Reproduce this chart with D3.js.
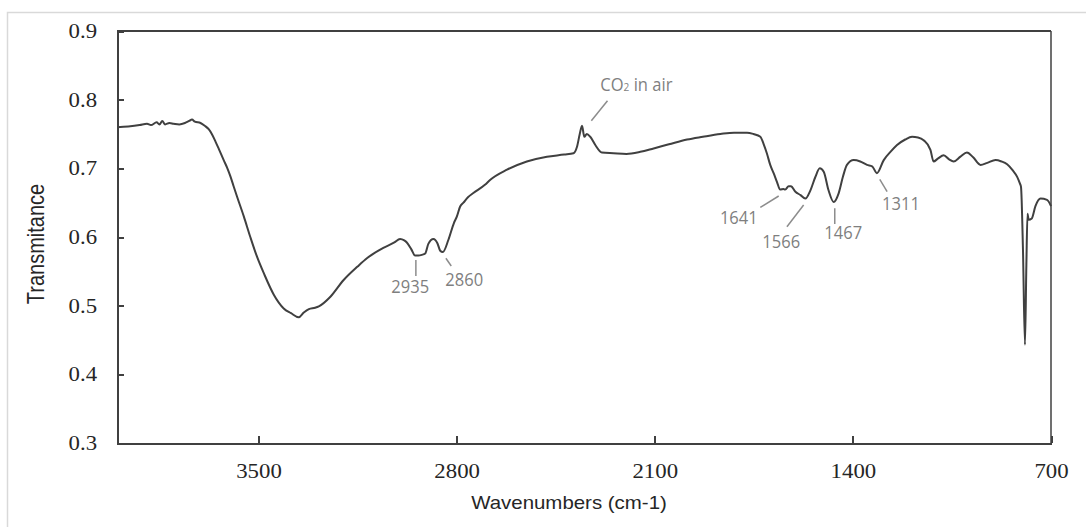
<html>
<head>
<title>FTIR spectrum</title>
<script src="https://d3js.org/d3.v7.min.js"></script>
<style type="text/css">
    body { margin: 0; background: #fff; }
    .axis path, .axis line {
        fill: none;
        stroke: #404040;
        stroke-width: 2px;
        shape-rendering: crispEdges;
    }
    .axis text {
        font-family: "Liberation Serif", serif;
        font-size: 20px;
        fill: #262626;
    }
    .anno text {
        font-family: "Open Sans", sans-serif;
        font-size: 18px;
        fill: #7f7f7f;
    }
    .anno line {
        stroke: #8c8c8c;
        stroke-width: 1.5px;
    }
</style>
</head>
<body>
<script type="text/javascript">
// spectrum (wavenumber cm-1, transmittance)
var wavenumber = [4000, 3960, 3920, 3894, 3880, 3860, 3850, 3840, 3830, 3815, 3800, 3780, 3760, 3745, 3735, 3725,
    3705, 3690, 3676, 3665, 3652, 3640, 3623, 3610, 3599, 3588, 3576, 3552, 3529, 3505, 3481, 3446, 3411, 3385,
    3358, 3340, 3322, 3300, 3287, 3246, 3200, 3150, 3117, 3059, 3020, 3000, 2985, 2976, 2960, 2947, 2935, 2923,
    2911, 2900, 2882, 2868, 2858, 2849, 2829, 2810, 2799, 2788, 2776, 2760, 2741, 2700, 2682, 2622, 2552, 2481,
    2420, 2387, 2375, 2365, 2357, 2349, 2340, 2328, 2310, 2287, 2246, 2200, 2151, 2104, 2050, 1986, 1930, 1868,
    1820, 1798, 1774, 1751, 1727, 1715, 1704, 1692, 1680, 1668, 1657, 1645, 1639, 1627, 1619, 1603, 1585, 1568,
    1550, 1533, 1517, 1503, 1486, 1468, 1450, 1435, 1421, 1397, 1374, 1350, 1332, 1315, 1291, 1265, 1244, 1215,
    1191, 1170, 1150, 1126, 1115, 1100, 1079, 1060, 1044, 1020, 997, 975, 949, 925, 896, 875, 855, 835, 820, 810,
    806, 799, 792, 787, 783, 779, 768, 755, 737, 714, 700];
var transmittance = [0.760, 0.761, 0.763, 0.765, 0.763, 0.767, 0.764, 0.769, 0.764, 0.766, 0.765, 0.764, 0.766,
    0.769, 0.771, 0.768, 0.766, 0.762, 0.757, 0.750, 0.739, 0.728, 0.712, 0.700, 0.688, 0.674, 0.659, 0.630, 0.600,
    0.571, 0.547, 0.516, 0.496, 0.489, 0.483, 0.490, 0.495, 0.497, 0.499, 0.513, 0.537, 0.557, 0.569, 0.584, 0.592,
    0.597, 0.595, 0.592, 0.582, 0.573, 0.573, 0.574, 0.576, 0.590, 0.597, 0.591, 0.580, 0.578, 0.596, 0.620, 0.630,
    0.644, 0.650, 0.658, 0.664, 0.676, 0.683, 0.698, 0.710, 0.717, 0.720, 0.722, 0.731, 0.750, 0.762, 0.746, 0.750,
    0.746, 0.734, 0.723, 0.722, 0.721, 0.724, 0.729, 0.735, 0.742, 0.746, 0.750, 0.752, 0.752, 0.752, 0.750, 0.746,
    0.735, 0.722, 0.705, 0.693, 0.680, 0.669, 0.670, 0.669, 0.674, 0.674, 0.666, 0.661, 0.656, 0.668, 0.687, 0.700,
    0.695, 0.668, 0.651, 0.664, 0.688, 0.705, 0.712, 0.710, 0.705, 0.703, 0.693, 0.712, 0.725, 0.734, 0.742, 0.746,
    0.745, 0.741, 0.727, 0.710, 0.714, 0.719, 0.713, 0.710, 0.717, 0.723, 0.716, 0.705, 0.708, 0.712, 0.710, 0.706,
    0.697, 0.688, 0.678, 0.673, 0.581, 0.443, 0.560, 0.634, 0.625, 0.627, 0.645, 0.656, 0.654, 0.645];

var xTicks = [3500, 2800, 2100, 1400, 700];
var yTicks = [0.3, 0.4, 0.5, 0.6, 0.7, 0.8, 0.9];

// peak labels: text, leader line ends and text anchor in data units
var annoText = ["CO2 in air", "2935", "2860", "1641", "1566", "1467", "1311"];
var annoFrom = [[2267, 0.7985], [2944, 0.5665], [2838, 0.569], [1727, 0.6432], [1633, 0.615], [1464, 0.6418], [1305, 0.684]];
var annoTo   = [[2324, 0.7694], [2944, 0.5432], [2819, 0.5578], [1662, 0.6597], [1574, 0.6466], [1464, 0.6189], [1279, 0.666]];
var annoAt   = [[2165, 0.8126], [2964, 0.5184], [2773, 0.5286], [1803, 0.6189], [1653, 0.5835], [1434, 0.5966], [1230, 0.6393]];

var w = 1086, h = 527;
var padL = 117, padR = 1051, padT = 31, padB = 443;

var svg = d3.select('body').append('svg')
    .attr('width', w)
    .attr('height', h);

// light frame round the figure
svg.append('rect')
    .attr('x', 7.5).attr('y', 12.5)
    .attr('width', 1100).attr('height', 540)
    .attr('fill', 'none')
    .attr('stroke', '#d9d9d9')
    .attr('stroke-width', 1.5);

var xscale = d3.scaleLinear().domain([4000, 700]).range([padL, padR]);
var yscale = d3.scaleLinear().domain([0.3, 0.9]).range([padB, padT]);

// top and right borders
svg.append('line')
    .attr('x1', padL).attr('x2', padR)
    .attr('y1', yscale(0.9)).attr('y2', yscale(0.9))
    .attr('stroke', '#404040').attr('stroke-width', 2);
svg.append('line')
    .attr('x1', xscale(700)).attr('x2', xscale(700))
    .attr('y1', padT).attr('y2', padB)
    .attr('stroke', '#404040').attr('stroke-width', 1.5);

var xAxis = d3.axisBottom(xscale)
    .tickValues(xTicks)
    .tickSize(-7)
    .tickSizeOuter(0)
    .tickPadding(21)
    .tickFormat(d3.format('d'));
svg.append('g')
    .attr('class', 'axis')
    .attr('transform', 'translate(0,' + padB + ')')
    .call(xAxis)
    .selectAll('text')
    .attr('transform', 'scale(1.14,1)');

var yAxis = d3.axisLeft(yscale)
    .tickValues(yTicks)
    .tickSize(-7)
    .tickSizeOuter(0)
    .tickPadding(17.5)
    .tickFormat(function (d) { return d.toFixed(1); });
svg.append('g')
    .attr('class', 'axis')
    .attr('transform', 'translate(' + padL + ',0)')
    .call(yAxis)
    .selectAll('text')
    .attr('transform', 'scale(1.14,1)');

// axis titles
svg.append('text')
    .attr('transform', 'translate(569,509) scale(1.135,1)')
    .attr('text-anchor', 'middle')
    .style('font-family', '"Liberation Sans", Arial, sans-serif')
    .style('font-size', '18px')
    .style('fill', '#262626')
    .text('Wavenumbers (cm-1)');

svg.append('text')
    .attr('transform', 'translate(44,244) scale(1.2,1) rotate(-90)')
    .attr('text-anchor', 'middle')
    .style('font-family', '"Liberation Sans", Arial, sans-serif')
    .style('font-size', '20px')
    .style('fill', '#262626')
    .text('Transmitance');

// spectrum
var spectrum = wavenumber.map(function (d, i) { return [d, transmittance[i]]; });
var line = d3.line()
    .x(function (d) { return xscale(d[0]); })
    .y(function (d) { return yscale(d[1]); })
    .curve(d3.curveMonotoneX);
svg.append('path')
    .datum(spectrum)
    .attr('fill', 'none')
    .attr('stroke', '#404040')
    .attr('stroke-width', 2)
    .attr('stroke-linejoin', 'round')
    .attr('d', line);

// peak labels
var anno = svg.append('g').attr('class', 'anno');
anno.selectAll('line')
    .data(annoText)
    .enter()
    .append('line')
    .attr('x1', function (d, i) { return xscale(annoFrom[i][0]); })
    .attr('y1', function (d, i) { return yscale(annoFrom[i][1]); })
    .attr('x2', function (d, i) { return xscale(annoTo[i][0]); })
    .attr('y2', function (d, i) { return yscale(annoTo[i][1]); });

var labels = anno.selectAll('text')
    .data(annoText)
    .enter()
    .append('text')
    .attr('text-anchor', 'middle')
    .attr('transform', function (d, i) {
        return 'translate(' + xscale(annoAt[i][0]) + ',' + yscale(annoAt[i][1]) + ') scale(0.92,1)';
    });
labels.each(function (d) {
    var t = d3.select(this);
    if (d.indexOf('CO2') === 0) {
        t.append('tspan').text('CO');
        t.append('tspan').text('2').style('font-size', '11px');
        t.append('tspan').text(' in air');
    } else {
        t.text(d);
    }
});
</script>
</body>
</html>
